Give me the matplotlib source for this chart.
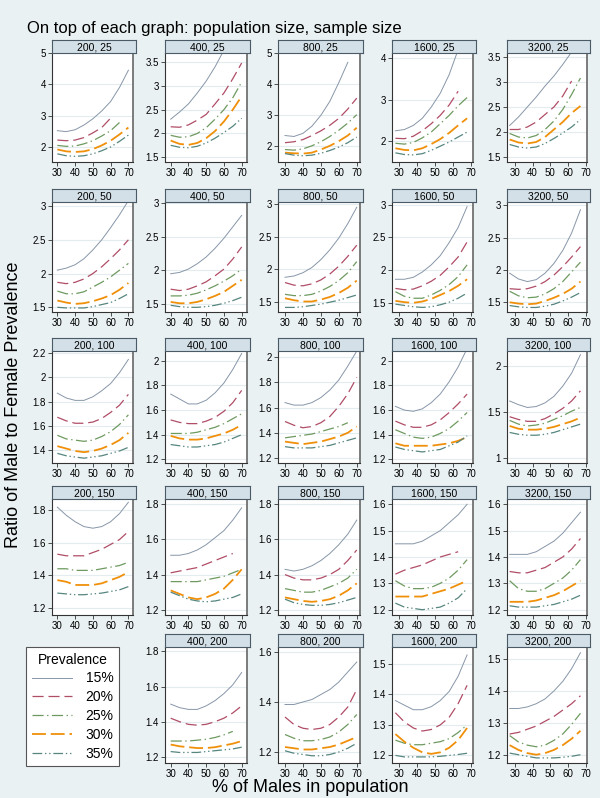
import numpy as np
import matplotlib
matplotlib.use("Agg")
import matplotlib.pyplot as plt

plt.rcParams["font.family"] = ["Liberation Sans", "DejaVu Sans"]
plt.rcParams["lines.scale_dashes"] = False

pop_sizes = [200, 400, 800, 1600, 3200]
sample_sizes = [25, 50, 100, 150, 200]
prevalence = ["15%", "20%", "25%", "30%", "35%"]

# % of males at which each curve was read (shifts a little with population size)
males_200 = [30, 35, 40, 45, 50, 55, 60, 65, 70]
males_400 = [30, 35, 40, 45, 50, 55, 60, 65, 70]
males_800 = [30, 35, 40, 45, 50, 55, 60, 65, 70]
males_1600 = [28, 33, 38, 43, 48, 53, 58, 63, 68]
males_3200 = [27, 32, 37, 42, 47, 52, 57, 62, 67]

# ratio of male to female prevalence, one row per prevalence (15..35%)
ratio_200_25 = [[2.52, 2.49, 2.55, 2.70, 2.90, 3.15, 3.45, 3.90, 4.45],
                [2.22, 2.20, 2.22, 2.30, 2.45, 2.62, 2.92, None, None],
                [2.05, 2.02, 2.03, 2.10, 2.20, 2.35, 2.52, 2.78, None],
                [1.92, 1.86, 1.84, 1.86, 1.93, 2.05, 2.20, 2.40, 2.62],
                [1.78, 1.72, 1.70, 1.72, 1.78, 1.88, 2.00, 2.18, 2.38]]
ratio_400_25 = [[2.30, 2.45, 2.62, 2.85, 3.10, 3.40, 3.75, 4.20, 4.70],
                [2.14, 2.13, 2.18, 2.28, 2.40, 2.62, 2.85, 3.15, 3.48],
                [1.96, 1.92, 1.93, 2.00, 2.12, 2.30, 2.50, 2.75, 3.08],
                [1.85, 1.78, 1.76, 1.80, 1.90, 2.05, 2.25, 2.50, 2.78],
                [1.75, 1.71, 1.70, 1.73, 1.80, 1.90, 2.02, 2.15, 2.32]]
ratio_800_25 = [[2.35, 2.32, 2.42, 2.65, 3.00, 3.45, 4.05, 4.70, None],
                [2.12, 2.15, 2.22, 2.35, 2.50, 2.68, 2.90, 3.20, 3.55],
                [1.90, 1.88, 1.92, 2.02, 2.15, 2.32, 2.52, 2.75, 3.02],
                [1.80, 1.78, 1.77, 1.80, 1.90, 2.02, 2.17, 2.35, 2.60],
                [1.77, 1.72, 1.70, 1.72, 1.78, 1.87, 1.98, 2.12, 2.30]]
ratio_1600_25 = [[2.25, 2.28, 2.38, 2.55, 2.82, 3.15, 3.60, 4.20, None],
                 [2.07, 2.06, 2.12, 2.25, 2.42, 2.62, 2.87, 3.20, None],
                 [1.95, 1.93, 1.97, 2.08, 2.22, 2.42, 2.62, 2.85, 3.05],
                 [1.83, 1.79, 1.78, 1.83, 1.93, 2.05, 2.20, 2.38, 2.55],
                 [1.72, 1.68, 1.67, 1.70, 1.78, 1.88, 1.98, 2.10, 2.22]]
ratio_3200_25 = [[2.13, 2.30, 2.50, 2.70, 2.92, 3.12, 3.35, 3.60, None],
                 [2.05, 2.05, 2.10, 2.20, 2.35, 2.50, 2.72, 3.02, None],
                 [1.97, 1.90, 1.88, 1.93, 2.05, 2.22, 2.45, 2.75, 3.08],
                 [1.85, 1.79, 1.77, 1.80, 1.90, 2.05, 2.20, 2.38, 2.52],
                 [1.75, 1.70, 1.68, 1.70, 1.77, 1.87, 1.98, 2.10, 2.25]]

ratio_200_50 = [[2.05, 2.08, 2.13, 2.22, 2.35, 2.50, 2.68, 2.87, 3.08],
                [1.87, 1.85, 1.87, 1.92, 2.00, 2.10, 2.22, 2.35, 2.50],
                [1.74, 1.70, 1.70, 1.73, 1.80, 1.87, 1.95, 2.05, 2.15],
                [1.60, 1.57, 1.55, 1.56, 1.59, 1.63, 1.68, 1.76, 1.86],
                [1.50, 1.49, 1.49, 1.49, 1.51, 1.54, 1.57, 1.63, 1.70]]
ratio_400_50 = [[1.95, 1.97, 2.02, 2.10, 2.20, 2.33, 2.48, 2.65, 2.82],
                [1.72, 1.70, 1.72, 1.77, 1.83, 1.92, 2.02, 2.17, 2.35],
                [1.62, 1.62, 1.63, 1.66, 1.71, 1.77, 1.84, 1.92, 2.02],
                [1.53, 1.51, 1.51, 1.53, 1.57, 1.62, 1.68, 1.77, 1.86],
                [1.48, 1.46, 1.45, 1.45, 1.46, 1.48, 1.51, 1.55, 1.60]]
ratio_800_50 = [[1.88, 1.90, 1.95, 2.03, 2.15, 2.30, 2.48, 2.70, 2.95],
                [1.80, 1.76, 1.75, 1.78, 1.84, 1.93, 2.05, 2.20, 2.37],
                [1.62, 1.60, 1.60, 1.62, 1.67, 1.74, 1.83, 1.95, 2.12],
                [1.56, 1.53, 1.51, 1.51, 1.54, 1.58, 1.64, 1.72, 1.83],
                [1.42, 1.42, 1.43, 1.45, 1.47, 1.50, 1.53, 1.57, 1.61]]
ratio_1600_50 = [[1.86, 1.86, 1.89, 1.97, 2.08, 2.22, 2.42, 2.65, 2.97],
                 [1.72, 1.70, 1.71, 1.76, 1.83, 1.92, 2.05, 2.20, 2.43],
                 [1.67, 1.60, 1.57, 1.57, 1.62, 1.69, 1.78, 1.90, 2.08],
                 [1.53, 1.51, 1.50, 1.52, 1.56, 1.62, 1.68, 1.76, 1.86],
                 [1.48, 1.46, 1.44, 1.43, 1.44, 1.47, 1.51, 1.57, 1.65]]
ratio_3200_50 = [[1.95, 1.86, 1.82, 1.85, 1.95, 2.10, 2.30, 2.57, 2.93],
                 [1.71, 1.70, 1.71, 1.75, 1.82, 1.92, 2.05, 2.20, 2.36],
                 [1.67, 1.60, 1.57, 1.58, 1.63, 1.71, 1.82, 1.97, 2.12],
                 [1.50, 1.48, 1.47, 1.48, 1.52, 1.57, 1.63, 1.71, 1.82],
                 [1.45, 1.43, 1.42, 1.42, 1.44, 1.47, 1.52, 1.58, 1.65]]

ratio_200_100 = [[1.87, 1.83, 1.81, 1.81, 1.84, 1.89, 1.95, 2.04, 2.15],
                 [1.67, 1.64, 1.62, 1.62, 1.63, 1.66, 1.71, 1.77, 1.86],
                 [1.52, 1.49, 1.48, 1.47, 1.48, 1.51, 1.55, 1.61, 1.69],
                 [1.43, 1.41, 1.39, 1.38, 1.39, 1.41, 1.44, 1.48, 1.54],
                 [1.37, 1.35, 1.34, 1.33, 1.34, 1.35, 1.37, 1.39, 1.42]]
ratio_400_100 = [[1.73, 1.69, 1.65, 1.65, 1.68, 1.74, 1.82, 1.93, 2.06],
                 [1.52, 1.50, 1.49, 1.49, 1.51, 1.54, 1.59, 1.66, 1.76],
                 [1.41, 1.41, 1.41, 1.42, 1.44, 1.46, 1.49, 1.53, 1.57],
                 [1.39, 1.37, 1.36, 1.36, 1.37, 1.39, 1.41, 1.44, 1.48],
                 [1.32, 1.31, 1.30, 1.30, 1.31, 1.32, 1.34, 1.37, 1.40]]
ratio_800_100 = [[1.64, 1.62, 1.62, 1.64, 1.68, 1.74, 1.82, 1.93, 2.05],
                 [1.49, 1.46, 1.44, 1.45, 1.48, 1.53, 1.61, 1.71, 1.84],
                 [1.36, 1.37, 1.38, 1.39, 1.41, 1.43, 1.45, 1.48, None],
                 [1.33, 1.32, 1.31, 1.32, 1.33, 1.35, 1.37, 1.40, 1.45],
                 [1.29, 1.28, 1.28, 1.28, 1.29, 1.30, 1.32, 1.34, 1.36]]
ratio_1600_100 = [[1.63, 1.60, 1.59, 1.61, 1.66, 1.73, 1.83, 1.95, 2.10],
                  [1.51, 1.48, 1.46, 1.46, 1.48, 1.52, 1.58, 1.65, 1.73],
                  [1.44, 1.41, 1.38, 1.37, 1.38, 1.41, 1.45, 1.51, 1.58],
                  [1.33, 1.31, 1.31, 1.31, 1.31, 1.32, 1.33, 1.35, 1.38],
                  [1.30, 1.28, 1.27, 1.26, 1.27, 1.28, 1.31, 1.34, 1.39]]
ratio_3200_100 = [[1.62, 1.58, 1.55, 1.56, 1.60, 1.67, 1.78, 1.92, 2.12],
                  [1.45, 1.42, 1.40, 1.40, 1.43, 1.48, 1.54, 1.62, 1.73],
                  [1.41, 1.37, 1.35, 1.36, 1.38, 1.42, 1.46, 1.51, 1.55],
                  [1.35, 1.32, 1.31, 1.31, 1.32, 1.34, 1.37, 1.40, 1.44],
                  [1.28, 1.26, 1.25, 1.25, 1.26, 1.28, 1.31, 1.34, 1.37]]

ratio_200_150 = [[1.82, 1.77, 1.73, 1.70, 1.69, 1.70, 1.73, 1.78, 1.85],
                 [1.53, 1.52, 1.52, 1.52, 1.54, 1.56, 1.59, 1.62, 1.67],
                 [1.44, 1.44, 1.43, 1.43, 1.43, 1.44, 1.45, 1.46, 1.48],
                 [1.37, 1.36, 1.34, 1.34, 1.34, 1.35, 1.37, 1.39, 1.42],
                 [1.29, 1.285, 1.28, 1.28, 1.285, 1.29, 1.30, 1.31, 1.33]]
ratio_400_150 = [[1.51, 1.51, 1.52, 1.54, 1.57, 1.61, 1.65, 1.71, 1.78],
                 [1.41, 1.42, 1.43, 1.44, 1.46, 1.48, 1.50, 1.52, None],
                 [1.36, 1.36, 1.36, 1.36, 1.37, 1.38, 1.39, 1.41, 1.43],
                 [1.31, 1.29, 1.27, 1.26, 1.27, 1.29, 1.32, 1.37, 1.43],
                 [1.30, 1.28, 1.26, 1.25, 1.245, 1.25, 1.26, 1.27, 1.29]]
ratio_800_150 = [[1.43, 1.42, 1.43, 1.45, 1.48, 1.52, 1.57, 1.63, 1.71],
                 [1.40, 1.38, 1.37, 1.37, 1.38, 1.40, 1.43, 1.48, 1.54],
                 [1.32, 1.31, 1.30, 1.30, 1.31, 1.33, 1.35, 1.38, 1.43],
                 [1.27, 1.26, 1.25, 1.245, 1.25, 1.26, 1.28, 1.31, 1.35],
                 [1.26, 1.24, 1.23, 1.225, 1.225, 1.23, 1.24, 1.255, 1.27]]
ratio_1600_150 = [[1.45, 1.45, 1.45, 1.46, 1.48, 1.50, 1.53, 1.56, 1.60],
                  [1.335, 1.35, 1.36, 1.37, 1.385, 1.40, 1.41, 1.42, None],
                  [1.31, 1.29, 1.28, 1.28, 1.285, 1.30, 1.32, 1.35, 1.39],
                  [1.25, 1.25, 1.25, 1.25, 1.26, 1.27, 1.28, 1.295, 1.31],
                  [1.225, 1.21, 1.205, 1.20, 1.205, 1.21, 1.225, 1.245, 1.28]]
ratio_3200_150 = [[1.41, 1.41, 1.41, 1.42, 1.44, 1.46, 1.49, 1.53, 1.57],
                  [1.345, 1.34, 1.34, 1.35, 1.36, 1.38, 1.40, 1.43, 1.47],
                  [1.31, 1.28, 1.27, 1.27, 1.28, 1.30, 1.32, 1.35, 1.39],
                  [1.23, 1.23, 1.23, 1.235, 1.245, 1.255, 1.27, 1.29, 1.31],
                  [1.215, 1.21, 1.21, 1.21, 1.215, 1.22, 1.23, 1.24, 1.255]]

ratio_400_200 = [[1.50, 1.48, 1.47, 1.47, 1.49, 1.52, 1.56, 1.61, 1.68],
                 [1.42, 1.40, 1.385, 1.38, 1.385, 1.40, 1.42, 1.45, 1.49],
                 [1.29, 1.29, 1.29, 1.295, 1.30, 1.31, 1.325, 1.345, None],
                 [1.27, 1.26, 1.255, 1.25, 1.25, 1.255, 1.265, 1.275, 1.29],
                 [1.23, 1.225, 1.225, 1.225, 1.23, 1.235, 1.24, 1.245, 1.255]]
ratio_800_200 = [[1.39, 1.39, 1.40, 1.41, 1.43, 1.45, 1.48, 1.52, 1.56],
                 [1.34, 1.31, 1.295, 1.29, 1.295, 1.31, 1.34, 1.38, 1.45],
                 [1.27, 1.255, 1.245, 1.245, 1.25, 1.26, 1.28, 1.31, 1.35],
                 [1.22, 1.215, 1.21, 1.21, 1.215, 1.22, 1.23, 1.245, 1.26],
                 [1.205, 1.195, 1.19, 1.185, 1.185, 1.19, 1.20, 1.215, 1.235]]
ratio_1600_200 = [[1.38, 1.365, 1.35, 1.35, 1.36, 1.38, 1.41, 1.46, 1.53],
                  [1.34, 1.31, 1.29, 1.28, 1.285, 1.30, 1.325, 1.37, 1.43],
                  [1.25, 1.24, 1.235, 1.235, 1.24, 1.245, 1.255, 1.275, 1.30],
                  [1.27, 1.245, 1.225, 1.21, 1.205, 1.21, 1.225, 1.25, 1.29],
                  [1.20, 1.195, 1.195, 1.195, 1.195, 1.197, 1.20, 1.203, 1.207]]
ratio_3200_200 = [[1.345, 1.345, 1.35, 1.36, 1.375, 1.40, 1.43, 1.47, 1.52],
                  [1.265, 1.27, 1.28, 1.29, 1.305, 1.32, 1.34, 1.36, 1.385],
                  [1.26, 1.24, 1.23, 1.225, 1.23, 1.245, 1.265, 1.295, 1.33],
                  [1.23, 1.215, 1.205, 1.20, 1.205, 1.215, 1.23, 1.25, 1.275],
                  [1.205, 1.20, 1.195, 1.19, 1.19, 1.19, 1.192, 1.195, 1.20]]

males = {200: males_200, 400: males_400, 800: males_800,
         1600: males_1600, 3200: males_3200}

panels = {
    (200, 25): ratio_200_25, (400, 25): ratio_400_25, (800, 25): ratio_800_25,
    (1600, 25): ratio_1600_25, (3200, 25): ratio_3200_25,
    (200, 50): ratio_200_50, (400, 50): ratio_400_50, (800, 50): ratio_800_50,
    (1600, 50): ratio_1600_50, (3200, 50): ratio_3200_50,
    (200, 100): ratio_200_100, (400, 100): ratio_400_100, (800, 100): ratio_800_100,
    (1600, 100): ratio_1600_100, (3200, 100): ratio_3200_100,
    (200, 150): ratio_200_150, (400, 150): ratio_400_150, (800, 150): ratio_800_150,
    (1600, 150): ratio_1600_150, (3200, 150): ratio_3200_150,
    (400, 200): ratio_400_200, (800, 200): ratio_800_200,
    (1600, 200): ratio_1600_200, (3200, 200): ratio_3200_200,
}

# y axis of each panel (Stata scales every panel on its own)
t25a = [2, 3, 4, 5]
t25b = [1.5, 2, 2.5, 3, 3.5]
t50 = [1.5, 2, 2.5, 3]
t100 = [1.2, 1.4, 1.6, 1.8, 2]
t150 = [1.2, 1.4, 1.6, 1.8]
t150b = [1.2, 1.3, 1.4, 1.5, 1.6]
yaxes = {
    (200, 25): (t25a, 1.52, 5.0), (400, 25): (t25b, 1.4, 3.69),
    (800, 25): (t25a, 1.5, 5.0), (1600, 25): ([2, 3, 4], 1.5, 4.12),
    (3200, 25): (t25b, 1.4, 3.58),
    (200, 50): (t50, 1.43, 3.06), (400, 50): (t50, 1.38, 3.02),
    (800, 50): (t50, 1.35, 3.03), (1600, 50): (t50, 1.36, 3.04),
    (3200, 50): (t50, 1.35, 3.05),
    (200, 100): ([1.4, 1.6, 1.8, 2, 2.2], 1.29, 2.22), (400, 100): (t100, 1.17, 2.08),
    (800, 100): (t100, 1.16, 2.05), (1600, 100): (t100, 1.17, 2.08),
    (3200, 100): ([1, 1.5, 2], 0.95, 2.16),
    (200, 150): (t150, 1.155, 1.87), (400, 150): (t150, 1.17, 1.83),
    (800, 150): (t150, 1.17, 1.83), (1600, 150): (t150b, 1.18, 1.62),
    (3200, 150): (t150b, 1.18, 1.62),
    (400, 200): (t150, 1.165, 1.825), (800, 200): ([1.2, 1.4, 1.6], 1.156, 1.62),
    (1600, 200): ([1.2, 1.3, 1.4, 1.5], 1.175, 1.556),
    (3200, 200): ([1.2, 1.3, 1.4, 1.5], 1.174, 1.538),
}
xlims = {200: (27.0, 72.6), 400: (26.8, 73.0), 800: (26.1, 71.8),
         1600: (26.1, 71.3), 3200: (25.5, 70.7)}

colors = ["#8796a8", "#b04d67", "#6e9a60", "#f0900a", "#56867f"]
styles = ["-", (0, (8, 3.5)), (0, (8, 2.5, 1, 2.5)), (0, (10, 3.5)),
          (0, (7, 2, 1, 2, 1, 2))]
widths = [0.7, 0.9, 0.9, 1.3, 0.9]

BG = "#eaf1f3"
W, H = 600, 798
col_left = [52, 165, 278, 392, 507]
col_right = [133, 247, 360, 473, 587]
row_top = [53, 202, 351, 499, 647]
row_bot = [162, 312, 463, 615, 763]


def fbox(x0, y0, x1, y1):
    return [x0 / W, 1 - y1 / H, (x1 - x0) / W, (y1 - y0) / H]


fig = plt.figure(figsize=(6, 7.98), dpi=100, facecolor=BG)
handles = None

for r, s in enumerate(sample_sizes):
    for c, p in enumerate(pop_sizes):
        if (p, s) not in panels:
            continue
        ax = fig.add_axes(fbox(col_left[c], row_top[r], col_right[c], row_bot[r]))
        ax.set_facecolor("white")
        lines = []
        for k, ys in enumerate(panels[(p, s)]):
            y = np.array([np.nan if v is None else v for v in ys])
            ln, = ax.plot(males[p], y, color=colors[k], lw=widths[k],
                          linestyle=styles[k])
            lines.append(ln)
        if handles is None:
            handles = lines
        ticks, lo, hi = yaxes[(p, s)]
        ax.set_ylim(lo, hi)
        ax.set_yticks(ticks)
        ax.set_yticklabels([f"{t:g}" for t in ticks])
        ax.set_xlim(*xlims[p])
        ax.set_xticks([30, 40, 50, 60, 70])
        ax.grid(axis="y", color="#e3ecef", lw=0.8)
        ax.set_axisbelow(True)
        ax.tick_params(direction="out", length=3, width=0.6, colors="#333333",
                       labelsize=7, pad=1.5, labelcolor="black")
        for side in ["left", "bottom"]:
            ax.spines[side].set_color("#333333")
            ax.spines[side].set_linewidth(0.8)
        ax.spines["right"].set_color("#666666")
        ax.spines["right"].set_linewidth(1.2)
        ax.spines["top"].set_visible(False)

        # strip with "population size, sample size"
        sax = fig.add_axes(fbox(col_left[c], row_top[r] - 13, col_right[c] + 3, row_top[r]))
        sax.set_facecolor("#d4e0e7")
        sax.set_xticks([])
        sax.set_yticks([])
        for sp in sax.spines.values():
            sp.set_color("#4a5a66")
            sp.set_linewidth(0.8)
        sax.text(0.5, 0.45, f"{p}, {s}", ha="center", va="center", fontsize=7.5,
                 transform=sax.transAxes)

fig.text(27 / W, 1 - 28 / H, "On top of each graph: population size, sample size",
         fontsize=12, va="center", ha="left")
fig.text(14 / W, 1 - 405 / H, "Ratio of Male to Female Prevalence", fontsize=13,
         rotation=90, va="center", ha="center")
fig.text(310 / W, 1 - 788 / H, "% of Males in population", fontsize=13,
         va="center", ha="center")

leg = fig.legend(handles, prevalence, title="Prevalence", loc="upper left",
                 bbox_to_anchor=(26 / W, 1 - 647 / H), fontsize=10, title_fontsize=10,
                 frameon=True, fancybox=False, edgecolor="#555555", facecolor="white",
                 framealpha=1, handlelength=2.9, handletextpad=1.0,
                 labelspacing=0.35, borderpad=0.4, borderaxespad=0)
leg.get_frame().set_linewidth(0.8)

fig.savefig("out.png", dpi=100, facecolor=BG)
